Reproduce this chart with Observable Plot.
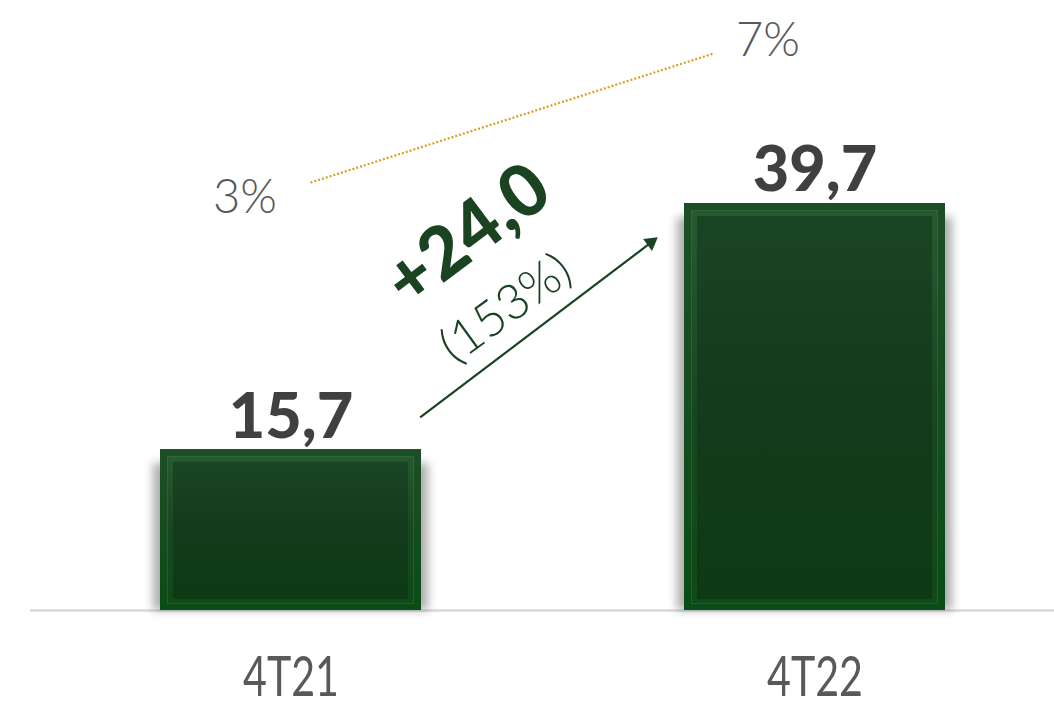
<!DOCTYPE html>
<html><head><meta charset="utf-8">
<script src="https://cdn.jsdelivr.net/npm/d3@7"></script>
<script src="https://cdn.jsdelivr.net/npm/@observablehq/plot@0.6"></script>
<style>body{margin:0;background:#fff;overflow:hidden}</style>
</head><body><div id="chart"></div>
<script>
// ---- data ----
const categories = ["4T21", "4T22"];
const values = [15.7, 39.7];
const shares = [3, 7];            // secondary series (%)
const yDomain = [0, 59.5];        // primary axis range
const shareAxis = [-7.05, 7.49];  // secondary axis range (%)

const bars = categories.map((c, i) => ({cat: c, value: values[i]}));
const shareY = d3.scaleLinear().domain(shareAxis).range(yDomain);
const shareRows = categories.map((c, i) => ({cat: c, share: shares[i], y: shareY(shares[i])}));
const delta = values[1] - values[0];
const growth = Math.round(delta / values[0] * 100);
const fmt = v => v.toFixed(1).replace(".", ",");
const arrowRow = {x1: categories[0], y1: values[0] - 6.4, x2: categories[1], y2: values[1] + 8.3};

const green = "#1a4322";
const chart = Plot.plot({
  width: 1054, height: 701,
  marginTop: 0, marginBottom: 91, marginLeft: 30, marginRight: 0,
  style: {fontFamily: "Lato, sans-serif", background: "#fff"},
  x: {domain: categories, paddingInner: 0.502, paddingOuter: 0.227, align: 0.544, axis: null},
  y: {domain: yDomain, axis: null},
  marks: [
    Plot.ruleY([0], {stroke: "#d9d9d9", strokeWidth: 2.5}),
    // soft shadow
    Plot.barY(bars, {x: "cat", y: "value", fill: "#000", fillOpacity: 0.32, insetLeft: -7, insetRight: -7, insetTop: 14}),
    // outer frame
    Plot.barY(bars, {x: "cat", y: "value", fill: "url(#gOuter)"}),
    // bevel
    Plot.barY(bars, {x: "cat", y: "value", fill: "url(#gBevel)", insetTop: 7, insetLeft: 7, insetRight: 7, insetBottom: 6}),
    // inner panel
    Plot.barY(bars, {x: "cat", y: "value", fill: "url(#gInner)", insetTop: 13, insetLeft: 13, insetRight: 13, insetBottom: 11}),
    Plot.barY(bars, {x: "cat", y: "value", fill: "none", stroke: "#3a7a43", strokeOpacity: 0.45, strokeWidth: 1, insetTop: 7.5, insetLeft: 7.5, insetRight: 7.5, insetBottom: 6.5}),
    // value labels
    Plot.text(bars, {x: "cat", y: "value", text: d => fmt(d.value), lineAnchor: "bottom", dy: -12,
      fontSize: 63, fontWeight: 900, fill: "#404040", fontFamily: "Lato"}),
    // secondary series line (dotted)
    Plot.arrow([{a: shareRows[0], b: shareRows[1]}], {
      x1: d => d.a.cat, y1: d => d.a.y, x2: d => d.b.cat, y2: d => d.b.y,
      headLength: 0, insetStart: 20.5, insetEnd: 106.6, bend: 0,
      stroke: "#d9a01a", strokeWidth: 2.2, strokeDasharray: "2,2", strokeLinecap: "butt"}),
    Plot.text([shareRows[0]], {x: "cat", y: "y", text: d => d.share + "%", dx: -46, dy: 9,
      fontSize: 47, fontWeight: 300, fill: "#595959", fontFamily: "Lato"}),
    Plot.text([shareRows[1]], {x: "cat", y: "y", text: d => d.share + "%", dx: -47, dy: 20,
      fontSize: 47, fontWeight: 300, fill: "#595959", fontFamily: "Lato"}),
    // growth arrow
    Plot.arrow([arrowRow], {
      x1: "x1", y1: "y1", x2: "x2", y2: "y2", bend: 0,
      insetStart: 162, insetEnd: 205, headLength: 0,
      stroke: green, strokeWidth: 2.2, strokeLinecap: "butt"}),
    Plot.dot([arrowRow], {x: "x2", y: "y2", dx: -164, dy: 124, symbol: "triangle", r: 5.5, rotate: 53,
      fill: green, stroke: "none"}),
    Plot.text([{cat: categories[0], v: values[0]}], {x: "cat", y: "v", text: () => "+" + fmt(delta),
      rotate: -37, dx: 177, dy: -214, fontSize: 72, fontWeight: 900, fill: green, fontFamily: "Lato"}),
    Plot.text([{cat: categories[0], v: values[0]}], {x: "cat", y: "v", text: () => "(" + growth + "%)",
      rotate: -36, dx: 215, dy: -141, fontSize: 49, fontWeight: 300, fill: green, fontFamily: "Lato"}),
    Plot.axisX({tickSize: 0, tickPadding: 46, fontSize: 56, fontWeight: 400, color: "#595959", label: null,
      fontFamily: "Lato, sans-serif"})
  ]
});

// gradient + blur definitions
const svg = d3.select(chart);
const defs = svg.insert("defs", ":first-child");
function grad(id, stops) {
  const g = defs.append("linearGradient").attr("id", id).attr("x1", 0).attr("y1", 0).attr("x2", 0).attr("y2", 1);
  stops.forEach(([o, c]) => g.append("stop").attr("offset", o).attr("stop-color", c));
}
grad("gOuter", [[0, "#1e4e27"], [1, "#0a4c15"]]);
grad("gBevel", [[0, "#275a2f"], [0.5, "#184621"], [1, "#0f4a18"]]);
grad("gInner", [[0, "#1a4524"], [0.45, "#143b1c"], [1, "#0d3a15"]]);
defs.append("filter").attr("id", "soft").attr("x", "-20%").attr("y", "-20%").attr("width", "140%").attr("height", "140%")
  .append("feGaussianBlur").attr("stdDeviation", 5);
const barGroups = chart.querySelectorAll('g[aria-label="bar"]');
if (barGroups.length) barGroups[0].setAttribute("filter", "url(#soft)");
// condensed axis labels
chart.querySelectorAll('g[aria-label="x-axis tick label"] text').forEach(t => {
  t.setAttribute("textLength", 96);
  t.setAttribute("lengthAdjust", "spacingAndGlyphs");
});

document.getElementById("chart").appendChild(chart);
</script>
</body></html>
